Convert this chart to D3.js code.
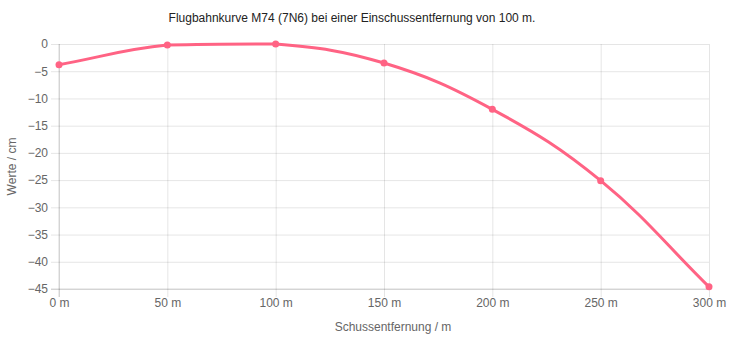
<!DOCTYPE html>
<html>
<head>
<meta charset="utf-8">
<script src="https://cdn.jsdelivr.net/npm/d3@7"></script>
<style>
  body { margin: 0; background: #fff; }
  svg { display: block; font-family: "Liberation Sans", Arial, sans-serif; }
</style>
</head>
<body>
<svg id="chart" width="732" height="338"></svg>
<script>
const distances = [0, 50, 100, 150, 200, 250, 300];
const drops = [-3.8, -0.2, 0, -3.5, -12, -25.1, -44.6];
const yTicks = [0, -5, -10, -15, -20, -25, -30, -35, -40, -45];
const titleText = 'Flugbahnkurve M74 (7N6) bei einer Einschussentfernung von 100 m.';

const width = 732;
const height = 338;
const margin = { top: 44, right: 23, bottom: 49, left: 59 };
const lineColor = 'rgb(255, 99, 132)';

const svg = d3.select('#chart');

const x = d3.scaleLinear()
  .domain([0, 300])
  .range([margin.left, width - margin.right]);

const y = d3.scaleLinear()
  .domain([-45, 0])
  .range([height - margin.bottom, margin.top]);

// grid + y ticks
const yAxis = svg.append('g')
  .attr('transform', `translate(${margin.left},0)`)
  .call(d3.axisLeft(y)
    .tickValues(yTicks)
    .tickSize(-(width - margin.left - margin.right))
    .tickPadding(11)
    .tickFormat(d => d3.format('d')(d)));
yAxis.select('.domain').remove();
yAxis.selectAll('.tick line')
  .attr('x1', -8)
  .attr('stroke', 'rgba(0,0,0,0.1)');
yAxis.selectAll('.tick text')
  .attr('fill', '#666')
  .style('font-size', '12px');

const xAxis = svg.append('g')
  .attr('transform', `translate(0,${height - margin.bottom})`)
  .call(d3.axisBottom(x)
    .tickValues(distances)
    .tickSize(-(height - margin.top - margin.bottom))
    .tickPadding(14)
    .tickFormat(d => d + ' m'));
xAxis.select('.domain').remove();
xAxis.selectAll('.tick line')
  .attr('y1', 8)
  .attr('stroke', 'rgba(0,0,0,0.1)');
xAxis.selectAll('.tick text')
  .attr('fill', '#666')
  .style('font-size', '12px')
  .attr('dy', '0.3em');

// axis border lines
svg.append('line')
  .attr('x1', margin.left - 8).attr('x2', width - margin.right)
  .attr('y1', y(-45)).attr('y2', y(-45))
  .attr('stroke', 'rgba(0,0,0,0.15)');
svg.append('line')
  .attr('x1', margin.left).attr('x2', margin.left)
  .attr('y1', margin.top).attr('y2', y(-45) + 8)
  .attr('stroke', 'rgba(0,0,0,0.15)');

// spline like chart.js (tension 0.4)
const pts = distances.map((d, i) => ({ x: x(d), y: y(drops[i]) }));
const tension = 0.4;
pts.forEach((p, i) => {
  const prev = pts[i - 1] || p;
  const next = pts[i + 1] || p;
  const d01 = Math.hypot(p.x - prev.x, p.y - prev.y);
  const d12 = Math.hypot(next.x - p.x, next.y - p.y);
  let s01 = d01 / (d01 + d12);
  let s12 = d12 / (d01 + d12);
  s01 = isNaN(s01) ? 0 : s01;
  s12 = isNaN(s12) ? 0 : s12;
  const fa = tension * s01;
  const fb = tension * s12;
  p.cpPrev = { x: p.x - fa * (next.x - prev.x), y: p.y - fa * (next.y - prev.y) };
  p.cpNext = { x: p.x + fb * (next.x - prev.x), y: p.y + fb * (next.y - prev.y) };
  p.cpPrev.y = Math.max(margin.top, p.cpPrev.y);
  p.cpNext.y = Math.max(margin.top, p.cpNext.y);
});

const path = d3.path();
path.moveTo(pts[0].x, pts[0].y);
for (let i = 1; i < pts.length; i++) {
  const a = pts[i - 1];
  const b = pts[i];
  path.bezierCurveTo(a.cpNext.x, a.cpNext.y, b.cpPrev.x, b.cpPrev.y, b.x, b.y);
}

svg.append('path')
  .attr('d', path.toString())
  .attr('fill', 'none')
  .attr('stroke', lineColor)
  .attr('stroke-width', 3);

svg.selectAll('circle.pt')
  .data(distances)
  .enter()
  .append('circle')
  .attr('class', 'pt')
  .attr('cx', d => x(d))
  .attr('cy', (d, i) => y(drops[i]))
  .attr('r', 3.5)
  .attr('fill', lineColor);

// titles
svg.append('text')
  .attr('x', width / 2 - 14)
  .attr('y', 22)
  .attr('text-anchor', 'middle')
  .attr('fill', '#222')
  .style('font-size', '12px')
  .text(titleText);

svg.append('text')
  .attr('x', 393)
  .attr('y', 331)
  .attr('text-anchor', 'middle')
  .attr('fill', '#666')
  .style('font-size', '12px')
  .text('Schussentfernung / m');

svg.append('text')
  .attr('transform', `translate(16,${(margin.top + height - margin.bottom) / 2}) rotate(-90)`)
  .attr('text-anchor', 'middle')
  .attr('fill', '#666')
  .style('font-size', '12px')
  .text('Werte / cm');
</script>
</body>
</html>
